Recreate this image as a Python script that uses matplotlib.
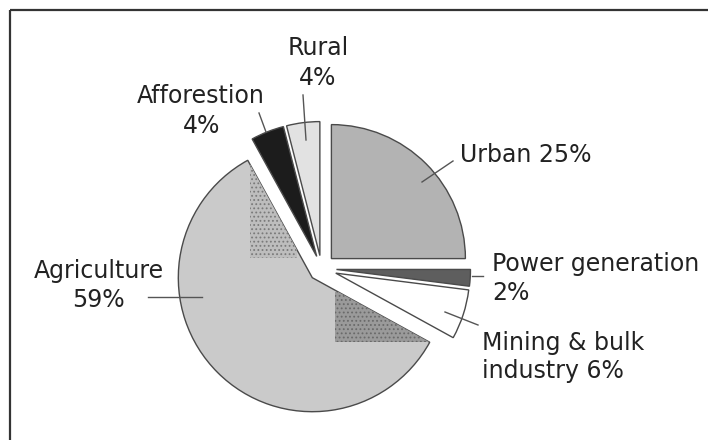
import matplotlib
matplotlib.use("Agg")
import matplotlib.pyplot as plt
from matplotlib.patches import Rectangle

# ---- data ----
categories = ["Urban", "Power generation", "Mining & bulk industry",
              "Agriculture", "Afforestion", "Rural"]
shares = [25, 2, 6, 59, 4, 4]
label_texts = [["Urban 25%"], ["Power generation", "2%"],
               ["Mining & bulk", "industry 6%"], ["Agriculture", "59%"],
               ["Afforestion", "4%"], ["Rural", "4%"]]

# ---- style ----
colors = ["#b3b3b3", "#5e5e5e", "#ffffff", "#cacaca", "#1c1c1c", "#e2e2e2"]
explode_px = [14, 15, 15, 13, 13, 13]
W, H = 708, 440
plt.rcParams['font.family'] = ['DejaVu Sans']
plt.rcParams['hatch.linewidth'] = 0.8

fig = plt.figure(figsize=(W / 100, H / 100), dpi=100)
ax = fig.add_axes([0, 0, 1, 1])

def Y(py):
    return H - py

cx, cy, r = 321.5, 268.5, 134
wedges, _ = ax.pie(shares, colors=colors, explode=explode_px, startangle=90,
                   counterclock=False, center=(cx, Y(cy)), radius=r,
                   wedgeprops=dict(edgecolor="#4a4a4a", linewidth=1.0),
                   frame=True)
ax.set_xlim(0, W)
ax.set_ylim(0, H)
ax.set_aspect('equal')
ax.axis('off')

# scanned texture patches inside the agriculture wedge
agri = wedges[3]
for (x0, y0, x1, y1, fc, hc) in [(250, 160, 297, 258, "#bdbdbd", "#7a7a7a"),
                                  (335, 292, 430, 342, "#9a9a9a", "#6a6a6a")]:
    rect = Rectangle((x0, Y(y1)), x1 - x0, y1 - y0, facecolor=fc,
                     edgecolor=hc, hatch='....', lw=0, zorder=agri.get_zorder())
    ax.add_patch(rect)
    rect.set_clip_path(agri)

# labels: (x, baseline y, ha) per line
label_pos = [
    [(460, 162, 'left')],
    [(492, 271, 'left'), (492, 300, 'left')],
    [(482, 350, 'left'), (482, 378, 'left')],
    [(99, 278, 'center'), (98, 307, 'center')],
    [(201, 103, 'center'), (202, 133, 'center')],
    [(318, 55, 'center'), (318, 85, 'center')],
]
for lines, poss in zip(label_texts, label_pos):
    for t, (x, y, ha) in zip(lines, poss):
        ax.text(x, Y(y), t, ha=ha, va='baseline', fontsize=17, color="#222222")

# leader lines
leaders = [((453, 161), (422, 182)), ((472, 276), (483, 276)),
           ((445, 312), (478, 325)), ((148, 297), (202, 297)),
           ((259, 113), (266, 132)), ((303, 95), (306, 140))]
for (x1, y1), (x2, y2) in leaders:
    ax.plot([x1, x2], [Y(y1), Y(y2)], color="#555555", lw=1.0)

# frame (top and left edges)
ax.plot([10, W], [Y(10), Y(10)], color="#333333", lw=1.6, solid_capstyle='butt')
ax.plot([10, 10], [Y(10), 0], color="#333333", lw=1.6, solid_capstyle='butt')

fig.savefig("out.png", dpi=100)
